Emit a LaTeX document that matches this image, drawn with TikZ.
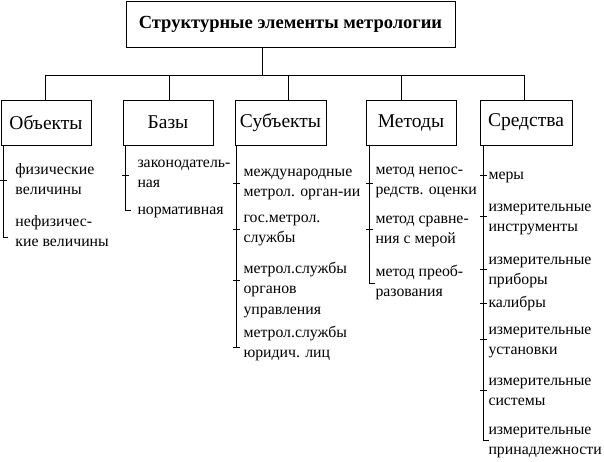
\documentclass[tikz,border=0pt]{standalone}
\usepackage{fontspec}
\setmainfont{Liberation Serif}
\begin{document}
\begin{tikzpicture}[x=1pt,y=-1pt,line width=1pt,
  topbox/.style={draw,minimum width=329pt,minimum height=46pt,inner sep=0pt,font=\fontsize{18.5}{22}\selectfont\bfseries},
  catbox/.style={draw,minimum height=45pt,inner sep=0pt,font=\fontsize{19.5}{22}\selectfont},
  item/.style={anchor=base west,inner sep=0pt,align=left,font=\fontsize{15.8}{20.5}\selectfont},
  tick/.style={line width=0.9pt}]
\useasboundingbox (0,0) rectangle (604,461);
% title
\node[topbox] (title) at (290.5,24) {Структурные элементы метрологии};
% categories
\node[catbox,minimum width=90pt] (obj) at (46,122.5) {Объекты};
\node[catbox,minimum width=90pt] (baz) at (168,122.5) {Базы};
\node[catbox,minimum width=91pt] (sub) at (280.5,122.5) {Субъекты};
\node[catbox,minimum width=90pt] (met) at (411,122.5) {Методы};
\node[catbox,minimum width=92pt] (sre) at (526,122.5) {Средства};
% bus
\coordinate (trunk) at (262,75);
\coordinate (b1) at (45,75);
\coordinate (b2) at (169,75);
\coordinate (b3) at (288,75);
\coordinate (b4) at (401,75);
\coordinate (b5) at (524,75);
\draw (title.south -| trunk) -- (trunk);
\draw (b1) -- (b5);
\draw (b1) -- (b1 |- obj.north);
\draw (b2) -- (b2 |- baz.north);
\draw (b3) -- (b3 |- sub.north);
\draw (b4) -- (b4 |- met.north);
\draw (b5) -- (b5 |- sre.north);
% Objects items (node position = baseline of last line)
\node[item] (o1) at (15,194.5) {физические\\величины};
\node[item] (o2) at (15,246.5) {нефизичес-\\кие величины};
\draw (3,145) -- (3,237);
\draw[tick] (0,180) -- (7,180);
\draw[tick] (3,237) -- (8,237);
% Bases
\node[item] (z1) at (137,187.5) {законодатель-\\ная};
\node[item] (z2) at (137,214) {нормативная};
\draw (125,145) -- (125,210);
\draw[tick] (122,175) -- (129,175);
\draw[tick] (125,210) -- (131,210);
% Subjects
\node[item] (s1) at (243,196.5) {международные\\метрол. орган-ии};
\node[item] (s2) at (243,242.5) {гос.метрол.\\службы};
\node[item] (s3) at (243,314) {метрол.службы\\органов\\управления};
\node[item] (s4) at (243,357.5) {метрол.службы\\юридич. лиц};
\draw (236,145) -- (236,347);
\draw[tick] (233,183) -- (240,183);
\draw[tick] (233,229) -- (240,229);
\draw[tick] (233,280) -- (240,280);
\draw[tick] (233,347) -- (240,347);
% Methods
\node[item] (m1) at (375,194.5) {метод непос-\\редств. оценки};
\node[item] (m2) at (375,243.5) {метод сравне-\\ния с мерой};
\node[item] (m3) at (375,296.5) {метод преоб-\\разования};
\draw (369,145) -- (369,283);
\draw[tick] (366,183) -- (373,183);
\draw[tick] (366,229) -- (373,229);
\draw[tick] (369,283) -- (375,283);
% Means
\node[item] (r1) at (488,179) {меры};
\node[item] (r2) at (488,231.5) {измерительные\\инструменты};
\node[item] (r3) at (488,284.5) {измерительные\\приборы};
\node[item] (r4) at (488,307) {калибры};
\node[item] (r5) at (488,354.5) {измерительные\\установки};
\node[item] (r6) at (488,405.5) {измерительные\\системы};
\node[item] (r7) at (488,454.5) {измерительные\\принадлежности};
\draw (483,145) -- (483,440);
\draw[tick] (480,175) -- (487,175);
\draw[tick] (480,216) -- (487,216);
\draw[tick] (480,269) -- (487,269);
\draw[tick] (480,303) -- (487,303);
\draw[tick] (480,339) -- (487,339);
\draw[tick] (480,390) -- (487,390);
\draw[tick] (483,440) -- (489,440);
\end{tikzpicture}
\end{document}
